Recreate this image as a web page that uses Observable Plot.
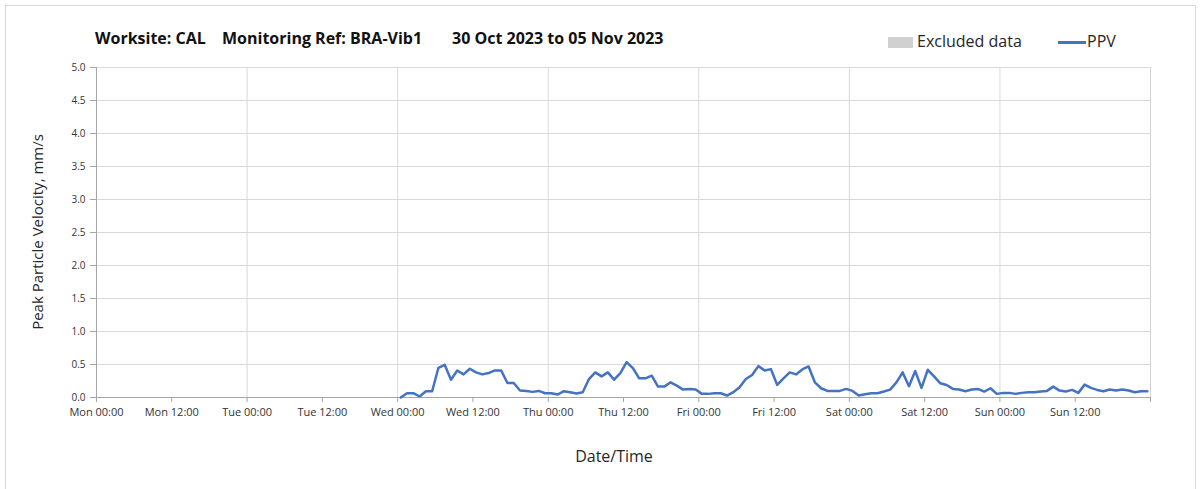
<!DOCTYPE html>
<html>
<head>
<meta charset="utf-8">
<script src="https://cdn.jsdelivr.net/npm/d3@7"></script>
<script src="https://cdn.jsdelivr.net/npm/@observablehq/plot@0.6"></script>
<style>
  html, body { margin: 0; padding: 0; background: #fff; }
  #wrap { position: relative; width: 1203px; height: 489px; overflow: hidden; font-family: "Open Sans", sans-serif; color: #262626; }
  #frame { position: absolute; left: 5px; top: 5px; width: 1191px; height: 490px; border: 1px solid #d9d9d9; box-sizing: border-box; }
  #chart { position: absolute; left: 0; top: 0; }
  .t { position: absolute; white-space: pre; }
  .title { font-weight: 700; font-size: 16px; top: 27px; color: #111; }
  .leg { font-size: 16px; top: 30px; color: #262626; }
  #ylab { position: absolute; left: 37px; top: 232px; transform: translate(-50%, -50%) rotate(-90deg); font-size: 15px; white-space: pre; color: #262626; }
  #xlab { position: absolute; left: 614px; top: 445px; transform: translateX(-50%); font-size: 16px; color: #262626; }
</style>
</head>
<body>
<div id="wrap">
  <div id="frame"></div>
  <div id="chart"></div>
  <div class="t title" style="left:95px">Worksite: CAL</div>
  <div class="t title" style="left:222px">Monitoring Ref: BRA-Vib1</div>
  <div class="t title" style="left:452px">30 Oct 2023 to 05 Nov 2023</div>
  <div style="position:absolute;left:888px;top:37px;width:25px;height:11px;background:#d0d0d0"></div>
  <div class="t leg" style="left:917px">Excluded data</div>
  <div style="position:absolute;left:1058px;top:41px;width:28px;height:3px;background:#4472c4"></div>
  <div class="t leg" style="left:1087px">PPV</div>
  <div id="ylab">Peak Particle Velocity, mm/s</div>
  <div id="xlab">Date/Time</div>
</div>
<script>
// Axis range
const periodStart = new Date(Date.UTC(2023, 9, 30, 0, 0));
const periodEnd = new Date(Date.UTC(2023, 10, 6, 0, 0));
// Hourly PPV readings starting Wed 01 Nov 2023 00:30
const firstReading = new Date(Date.UTC(2023, 10, 1, 0, 30));
const readingStepHours = 1;
const ppv = [
  0.0, 0.065, 0.065, 0.015, 0.095, 0.095, 0.45, 0.495, 0.27, 0.41,
  0.35, 0.435, 0.38, 0.35, 0.37, 0.41, 0.41, 0.22, 0.22, 0.105,
  0.10, 0.085, 0.10, 0.065, 0.065, 0.045, 0.095, 0.08, 0.06, 0.08,
  0.28, 0.38, 0.32, 0.38, 0.27, 0.37, 0.535, 0.445, 0.29, 0.29,
  0.33, 0.165, 0.165, 0.23, 0.18, 0.12, 0.13, 0.12, 0.055, 0.055,
  0.065, 0.065, 0.03, 0.08, 0.155, 0.28, 0.34, 0.475, 0.41, 0.43,
  0.19, 0.29, 0.38, 0.35, 0.425, 0.47, 0.23, 0.14, 0.10, 0.10,
  0.10, 0.13, 0.10, 0.03, 0.05, 0.065, 0.065, 0.09, 0.12, 0.23,
  0.38, 0.17, 0.40, 0.145, 0.42, 0.32, 0.215, 0.19, 0.13, 0.12,
  0.095, 0.12, 0.13, 0.09, 0.14, 0.055, 0.07, 0.07, 0.055, 0.07,
  0.08, 0.08, 0.09, 0.10, 0.165, 0.105, 0.09, 0.115, 0.07, 0.195,
  0.145, 0.115, 0.095, 0.12, 0.105, 0.12, 0.105, 0.08, 0.095, 0.095
];
const yTicks = [0, 0.5, 1.0, 1.5, 2.0, 2.5, 3.0, 3.5, 4.0, 4.5, 5.0];

const data = ppv.map((v, i) => ({
  time: d3.utcHour.offset(firstReading, i * readingStepHours),
  ppv: v
}));
const xTicks = d3.utcHour.every(12).range(periodStart, periodEnd);
const allTicks = xTicks.concat([periodEnd]);
const dayTicks = d3.utcDay.range(d3.utcDay.offset(periodStart, 1), periodEnd);

const chart = Plot.plot({
  width: 1203,
  height: 489,
  marginLeft: 96,
  marginRight: 53,
  marginTop: 67,
  marginBottom: 92,
  style: { fontFamily: "Open Sans, sans-serif", fontSize: "11px", color: "#333", background: "transparent" },
  x: { type: "utc", domain: [periodStart, periodEnd] },
  y: { domain: [0, 5] },
  marks: [
    Plot.gridY(yTicks, { stroke: "#d9d9d9", strokeOpacity: 1 }),
    Plot.gridX(dayTicks, { stroke: "#d9d9d9", strokeOpacity: 1 }),
    Plot.ruleX([periodEnd], { stroke: "#d0d0d0" }),
    Plot.ruleX([periodStart], { stroke: "#a6a6a6" }),
    Plot.ruleY([0], { stroke: "#a6a6a6" }),
    Plot.axisY(yTicks, { tickFormat: d => d.toFixed(1), tickSize: 6, tickPadding: 5, label: null, fontSize: 10, stroke: "#a6a6a6", fill: "#333" }),
    Plot.axisX(allTicks, { tickFormat: d => +d === +periodEnd ? "" : d3.utcFormat("%a %H:%M")(d), tickSize: 5, tickPadding: 6, label: null, stroke: "#a6a6a6", fill: "#333" }),
    Plot.lineY(data, { x: "time", y: "ppv", stroke: "#4472c4", strokeWidth: 2.5 })
  ]
});
document.getElementById("chart").appendChild(chart);
</script>
</body>
</html>
